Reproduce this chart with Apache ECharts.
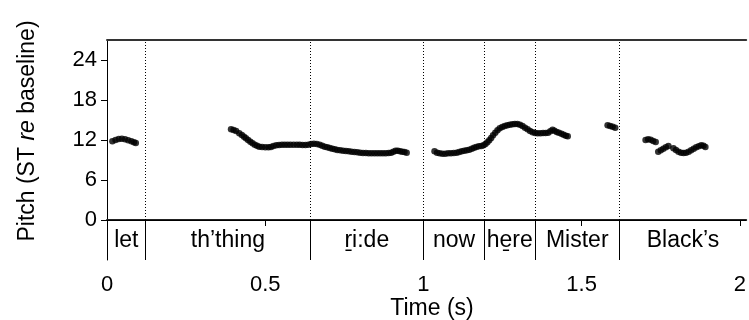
<!DOCTYPE html>
<html>
<head>
<meta charset="utf-8">
<script src="https://cdn.jsdelivr.net/npm/echarts@6/dist/echarts.min.js"></script>
<style>html,body{margin:0;padding:0;background:#fff}#c{width:749px;height:320px}</style>
</head>
<body>
<div id="c"></div>
<script>
// ---- data ----
const xTicks = [0, 0.5, 1, 1.5, 2];
const yTicks = [0, 6, 12, 18, 24];
const words = ['let', 'th\u2019thing', 'r\u0331i:de', 'now', 'he\u0331re', 'Mister', 'Black\u2019s'];
const wordBounds = [0, 0.122, 0.642, 1.0, 1.193, 1.352, 1.62, 2.02];
const pitchLet = [[0.017,11.8],[0.027,12.0],[0.037,12.15],[0.047,12.2],[0.057,12.1],[0.067,11.95],[0.077,11.8],[0.085,11.65],[0.091,11.55]];
const pitchThingRide = [[0.392,13.6],[0.400,13.5],[0.408,13.35],[0.418,13.0],[0.426,12.75],[0.433,12.5],[0.439,12.25],[0.446,12.0],[0.453,11.75],[0.460,11.5],[0.467,11.3],[0.474,11.15],[0.481,11.0],[0.490,10.95],[0.500,10.9],[0.510,10.9],[0.518,10.95],[0.526,11.1],[0.535,11.2],[0.544,11.25],[0.553,11.3],[0.562,11.3],[0.571,11.3],[0.580,11.3],[0.590,11.3],[0.600,11.3],[0.609,11.3],[0.618,11.25],[0.627,11.25],[0.636,11.3],[0.645,11.4],[0.654,11.45],[0.663,11.4],[0.672,11.3],[0.680,11.15],[0.688,11.0],[0.696,10.9],[0.704,10.8],[0.712,10.7],[0.720,10.6],[0.728,10.5],[0.737,10.45],[0.746,10.4],[0.755,10.35],[0.764,10.3],[0.773,10.25],[0.782,10.2],[0.791,10.15],[0.800,10.1],[0.809,10.05],[0.818,10.05],[0.827,10.0],[0.836,10.0],[0.845,10.0],[0.854,10.0],[0.863,10.0],[0.872,10.0],[0.881,10.0],[0.890,10.05],[0.898,10.1],[0.905,10.25],[0.912,10.4],[0.919,10.4],[0.926,10.3],[0.933,10.25],[0.940,10.2],[0.947,10.1]];
const pitchNowHere = [[1.035,10.3],[1.043,10.1],[1.051,10.0],[1.060,9.95],[1.069,9.95],[1.078,10.0],[1.087,10.0],[1.096,10.05],[1.105,10.1],[1.113,10.2],[1.121,10.3],[1.129,10.4],[1.137,10.45],[1.145,10.55],[1.153,10.7],[1.160,10.85],[1.167,10.95],[1.175,11.05],[1.183,11.1],[1.190,11.2],[1.196,11.4],[1.202,11.65],[1.208,11.95],[1.214,12.3],[1.220,12.7],[1.227,13.1],[1.234,13.45],[1.241,13.75],[1.249,13.95],[1.257,14.1],[1.265,14.2],[1.273,14.3],[1.281,14.35],[1.289,14.4],[1.297,14.4],[1.305,14.3],[1.313,14.1],[1.321,13.85],[1.329,13.6],[1.337,13.35],[1.345,13.15],[1.353,13.05],[1.361,13.0],[1.370,13.0],[1.378,13.05],[1.386,13.05],[1.394,13.1],[1.401,13.3],[1.408,13.55],[1.414,13.4],[1.421,13.2],[1.428,13.1],[1.436,12.95],[1.443,12.8],[1.450,12.65],[1.456,12.55]];
const pitchMister = [[1.582,14.2],[1.590,14.1],[1.598,14.0],[1.606,13.85]];
const pitchBlacks = [[1.702,12.0],[1.710,12.1],[1.718,12.05],[1.726,11.85],[1.734,11.7],[1.742,10.25],[1.750,10.45],[1.758,10.7],[1.766,10.9],[1.774,11.1],[1.790,10.75],[1.798,10.5],[1.806,10.25],[1.814,10.1],[1.822,10.05],[1.830,10.1],[1.838,10.25],[1.846,10.45],[1.854,10.7],[1.862,10.9],[1.870,11.05],[1.878,11.2],[1.885,11.15],[1.891,10.95]];

// ---- chart ----
const FONT = '"Liberation Sans", Arial, sans-serif';
const chart = echarts.init(document.getElementById('c'), null, {renderer: 'canvas'});
const pitch = [].concat(pitchLet, pitchThingRide, pitchNowHere, pitchMister, pitchBlacks);

const inner = wordBounds.slice(1, -1);
const markLines = [];
inner.forEach(b => {
  markLines.push([{coord: [b, 0], lineStyle: {type: [1, 2], color: '#000', width: 1}}, {coord: [b, 27]}]);
  markLines.push([{coord: [b, -6], lineStyle: {type: 'solid', color: '#000', width: 1}}, {coord: [b, 0]}]);
});
markLines.push([{coord: [0, 0], lineStyle: {type: 'solid', color: '#000', width: 1}}, {coord: [2.02, 0]}]);

const areas = words.map((w, i) => [
  {xAxis: wordBounds[i], yAxis: -6, name: w},
  {xAxis: wordBounds[i + 1], yAxis: 0}
]);

chart.setOption({
  animation: false,
  grid: {left: 107, right: 0, top: 40, bottom: 60, containLabel: false},
  xAxis: [{
    type: 'value', min: 0, max: 2.02, position: 'bottom',
    axisLine: {show: true, lineStyle: {color: '#222', width: 2}},
    axisTick: {show: true, length: 6, customValues: xTicks, lineStyle: {color: '#000', width: 1}},
    axisLabel: {customValues: xTicks, margin: 14, color: '#000', fontFamily: FONT, fontSize: 22},
    splitLine: {show: false}
  }, {
    type: 'value', min: 0, max: 2.02, position: 'top',
    axisLine: {show: true, lineStyle: {color: '#333', width: 2}},
    axisTick: {show: false}, axisLabel: {show: false}, splitLine: {show: false}
  }],
  yAxis: {
    type: 'value', min: -6, max: 27,
    axisLine: {show: true, lineStyle: {color: '#000', width: 1}},
    axisTick: {show: true, length: 6, customValues: yTicks, lineStyle: {color: '#000'}},
    axisLabel: {customValues: yTicks, margin: 10, color: '#000', fontFamily: FONT, fontSize: 22},
    splitLine: {show: false}
  },
  series: [{
    type: 'scatter',
    data: pitch,
    symbol: 'circle',
    symbolSize: 6.5,
    itemStyle: {color: '#000'},
    markLine: {silent: true, symbol: ['none', 'none'], label: {show: false}, data: markLines},
    markArea: {
      silent: true,
      itemStyle: {color: 'rgba(0,0,0,0)'},
      label: {show: true, position: 'inside', color: '#000', fontFamily: FONT, fontSize: 23, offset: [0, 1]},
      data: areas
    }
  }],
  graphic: [{
    type: 'text', x: 28, y: 131, rotation: Math.PI / 2,
    style: {
      text: '{a|Pitch (ST }{b|re}{a| baseline)}',
      align: 'center', verticalAlign: 'middle',
      rich: {
        a: {fontFamily: FONT, fontSize: 23, fill: '#000', color: '#000'},
        b: {fontFamily: FONT, fontSize: 23, fontStyle: 'italic', fill: '#000', color: '#000'}
      }
    }
  }, {
    type: 'text', x: 432, y: 309,
    style: {text: 'Time (s)', font: '23px ' + FONT, fill: '#000', align: 'center', verticalAlign: 'middle'}
  }]
});
</script>
</body>
</html>
